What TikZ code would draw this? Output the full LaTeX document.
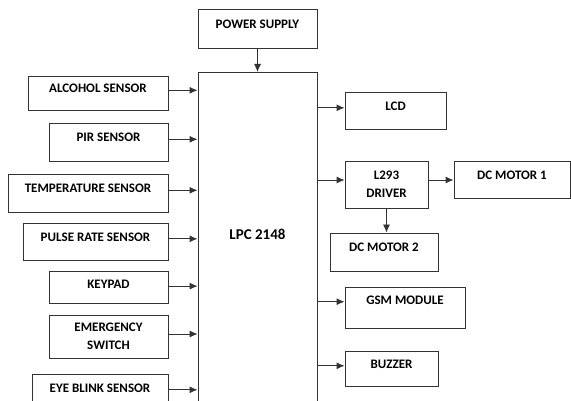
\documentclass[tikz,border=0pt]{standalone}
\usepackage{fontspec}
\setmainfont{Carlito}
\usetikzlibrary{arrows.meta,positioning}

\begin{document}
\begin{tikzpicture}[
  x=1pt,y=-1pt,
  blk/.style={draw=black!80,line width=0.9pt,rectangle,inner sep=0pt,
              font=\bfseries\fontsize{13}{18}\selectfont,align=center,
              text height=8pt,text depth=8.6pt},
  twoline/.style={text height=26pt,text depth=0pt},
  arr/.style={draw=black!80,line width=0.9pt,-{Latex[length=8pt,width=7pt]}}
]
\clip (0,0) rectangle (571,401);

% controller, open at the bottom edge
\node[blk,anchor=north,minimum width=119pt,minimum height=360pt,
      font=\bfseries\fontsize{15}{18}\selectfont,text height=9.5pt,text depth=36pt]
      (lpc) at (257.5,72) {LPC 2148};
\node[blk,minimum width=119pt,minimum height=39pt] (ps)  at (257.5,28.5) {POWER SUPPLY};

% inputs
\node[blk,minimum width=140pt,minimum height=34pt] (alc) at (98,93)     {ALCOHOL SENSOR};
\node[blk,minimum width=119pt,minimum height=38pt] (pir) at (108.5,142) {PIR SENSOR};
\node[blk,minimum width=160pt,minimum height=38pt] (tmp) at (88,193)    {TEMPERATURE SENSOR};
\node[blk,minimum width=145pt,minimum height=37pt] (pls) at (95.5,241.5){PULSE RATE SENSOR};
\node[blk,minimum width=119pt,minimum height=32pt,text depth=5pt] (key) at (108.5,287) {KEYPAD};
\node[blk,twoline,minimum width=119pt,minimum height=43pt] (emg) at (108.5,336.5) {EMERGENCY\\SWITCH};
\node[blk,minimum width=136pt,minimum height=37pt] (eye) at (100,392.5) {EYE BLINK SENSOR};

% outputs
\node[blk,minimum width=101pt,minimum height=37pt] (lcd) at (395.5,110.5) {LCD};
\node[blk,twoline,minimum width=83pt,minimum height=47pt] (drv) at (386.5,184.5) {L293\\DRIVER};
\node[blk,minimum width=116pt,minimum height=37pt] (mo1) at (512,179.5) {DC MOTOR 1};
\node[blk,minimum width=108pt,minimum height=38pt] (mo2) at (384,252)   {DC MOTOR 2};
\node[blk,minimum width=120pt,minimum height=41pt,text depth=14.8pt] (gsm) at (405,307.5) {GSM MODULE};
\node[blk,minimum width=93pt,minimum height=35pt]  (buz) at (391.5,368.5) {BUZZER};

\draw[arr] (ps.south) -- (ps.south |- lpc.north);
\foreach \n in {alc,pir,tmp,pls,key,eye}
  \draw[arr] (\n.mid east) -- (\n.mid east -| lpc.west);
\draw[arr] ([yshift=2.5pt]emg.east) -- ([yshift=2.5pt]emg.east -| lpc.west);
\foreach \n in {lcd,gsm,buz}
  \draw[arr] (\n.mid west -| lpc.east) -- (\n.mid west);
\draw[arr] ([yshift=4.5pt]drv.west -| lpc.east) -- ([yshift=4.5pt]drv.west);
\draw[arr] ([yshift=4.5pt]drv.east) -- ([yshift=4.5pt]drv.east -| mo1.west);
\draw[arr] (drv.south) -- (drv.south |- mo2.north);
\end{tikzpicture}
\end{document}
